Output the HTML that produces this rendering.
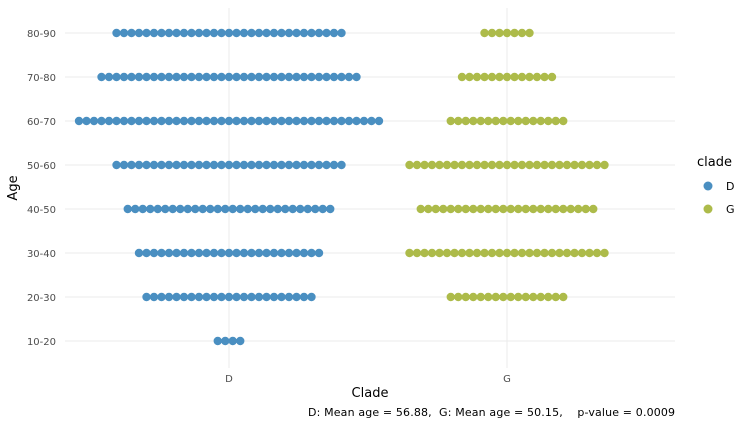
<!DOCTYPE html>
<html><head><meta charset="utf-8"><style>
body{margin:0;background:#fff;}
svg{display:block;font-family:"DejaVu Sans","Liberation Sans",sans-serif;}
</style></head><body>
<svg id="c" width="750" height="425" xmlns="http://www.w3.org/2000/svg">
<g id="grid"></g>
<g id="dots"></g>
<g id="axes"></g>
<text x="370" y="397" font-size="13" text-anchor="middle" fill="#000">Clade</text>
<text transform="translate(17,188) rotate(-90)" font-size="13" text-anchor="middle" fill="#000">Age</text>
<text x="308" y="416" font-size="11" textLength="367" lengthAdjust="spacing" fill="#000" xml:space="preserve">D: Mean age = 56.88,  G: Mean age = 50.15,    p-value = 0.0009</text>
<g>
<text x="697" y="166" font-size="13" fill="#000">clade</text>
<circle cx="708" cy="186" r="4.5" fill="#4a8fc1"/>
<text x="726" y="190" font-size="11" fill="#000">D</text>
<circle cx="708" cy="209" r="4.5" fill="#adbb4a"/>
<text x="726" y="213" font-size="11" fill="#000">G</text>
</g>
</svg>
<script>
const ageGroups = ["10-20","20-30","30-40","40-50","50-60","60-70","70-80","80-90"];
const clades = ["D","G"];
const countsD = [4,23,25,28,31,41,35,31];
const countsG = [0,16,27,24,27,16,13,7];
const colors = {D:"#4a8fc1", G:"#adbb4a"};
const NS="http://www.w3.org/2000/svg";
const x0=65,x1=675,yTop=8,yBot=368;
const xPos = c => ({D:229,G:507})[c];
const yPos = i => 341 - i*44;
const step=7.5;
function mk(t,a,p){const e=document.createElementNS(NS,t);for(const k in a)e.setAttribute(k,a[k]);p.appendChild(e);return e;}
const grid=document.getElementById('grid'),dots=document.getElementById('dots'),axes=document.getElementById('axes');
ageGroups.forEach((g,i)=>{
  const l=mk('line',{x1:x0,x2:x1,y1:yPos(i),y2:yPos(i),stroke:'#ebebeb','stroke-width':1},grid);
  
  
  const t=mk('text',{x:56,y:yPos(i)+4,'font-size':10,'text-anchor':'end',fill:'#4d4d4d'},axes);
  t.textContent=g;
  
  
});
clades.forEach(c=>{
  const l=mk('line',{x1:xPos(c),x2:xPos(c),y1:yTop,y2:yBot,stroke:'#ebebeb','stroke-width':1},grid);
  
  
  const t=mk('text',{x:xPos(c),y:382,'font-size':10,'text-anchor':'middle',fill:'#4d4d4d'},axes);
  t.textContent=c;
  
  
});
clades.forEach(c=>{
  const counts=c==="D"?countsD:countsG;
  counts.forEach((n,i)=>{
    for(let k=0;k<n;k++){
      const cx=xPos(c)+(k-(n-1)/2)*step;
      const d=mk('circle',{cx:cx,cy:yPos(i),r:4.2,fill:colors[c]},dots);
      
      
    }
  });
});
</script>
</body></html>
